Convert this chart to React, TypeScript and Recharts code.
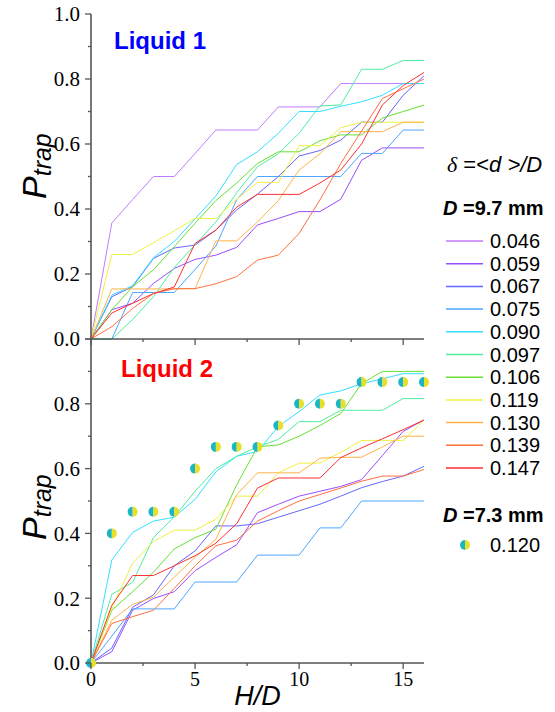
import { ComposedChart, Line, Scatter, XAxis, YAxis } from 'recharts';

// H/D positions (shared by every series)
const hd = [0, 1, 2, 3, 4, 5, 6, 7, 8, 9, 10, 11, 12, 13, 14, 15, 16];

// Liquid 1, D = 9.7 mm
const liq1_046 = [0, 0.357, 0.429, 0.5, 0.5, 0.571, 0.643, 0.643, 0.643, 0.714, 0.714, 0.714, 0.786, 0.786, 0.786, 0.786, 0.786];
const liq1_059 = [0, 0.09, 0.11, 0.171, 0.217, 0.245, 0.258, 0.282, 0.351, 0.371, 0.392, 0.392, 0.43, 0.55, 0.588, 0.588, 0.588];
const liq1_067 = [0, 0.13, 0.161, 0.248, 0.28, 0.289, 0.335, 0.397, 0.446, 0.5, 0.563, 0.58, 0.612, 0.667, 0.667, 0.75, 0.81];
const liq1_075 = [0, 0, 0.143, 0.143, 0.143, 0.214, 0.286, 0.429, 0.5, 0.5, 0.5, 0.5, 0.5, 0.571, 0.571, 0.643, 0.643];
const liq1_090 = [0, 0.135, 0.164, 0.25, 0.3, 0.37, 0.44, 0.537, 0.576, 0.633, 0.7, 0.7, 0.716, 0.73, 0.75, 0.786, 0.786];
const liq1_097 = [0, 0, 0.06, 0.13, 0.22, 0.29, 0.36, 0.45, 0.53, 0.57, 0.633, 0.717, 0.72, 0.83, 0.83, 0.857, 0.857];
const liq1_106 = [0, 0.09, 0.161, 0.213, 0.284, 0.356, 0.426, 0.48, 0.54, 0.576, 0.576, 0.61, 0.628, 0.628, 0.68, 0.7, 0.72];
const liq1_119 = [0, 0.26, 0.26, 0.296, 0.333, 0.371, 0.371, 0.43, 0.482, 0.482, 0.595, 0.595, 0.65, 0.667, 0.667, 0.667, 0.667];
const liq1_130 = [0, 0.154, 0.154, 0.154, 0.154, 0.155, 0.302, 0.302, 0.36, 0.426, 0.52, 0.57, 0.638, 0.638, 0.638, 0.667, 0.667];
const liq1_139 = [0, 0.038, 0.094, 0.14, 0.155, 0.155, 0.17, 0.192, 0.243, 0.258, 0.325, 0.428, 0.54, 0.64, 0.74, 0.77, 0.8];
const liq1_147 = [0, 0.08, 0.11, 0.14, 0.16, 0.294, 0.335, 0.406, 0.445, 0.445, 0.445, 0.48, 0.52, 0.6, 0.72, 0.78, 0.82];

// Liquid 2, D = 9.7 mm
const liq2_059 = [0, 0.035, 0.163, 0.199, 0.22, 0.285, 0.326, 0.365, 0.464, 0.49, 0.515, 0.53, 0.545, 0.566, 0.64, 0.715, 0.75];
const liq2_067 = [0, 0.046, 0.172, 0.21, 0.3, 0.346, 0.423, 0.423, 0.43, 0.45, 0.47, 0.49, 0.515, 0.541, 0.56, 0.577, 0.607];
const liq2_075 = [0, 0.083, 0.167, 0.167, 0.167, 0.25, 0.25, 0.25, 0.333, 0.333, 0.333, 0.417, 0.417, 0.5, 0.5, 0.5, 0.5];
const liq2_090 = [0, 0.318, 0.403, 0.438, 0.45, 0.505, 0.59, 0.638, 0.653, 0.73, 0.776, 0.827, 0.84, 0.862, 0.877, 0.893, 0.893];
const liq2_097 = [0, 0.212, 0.249, 0.387, 0.451, 0.53, 0.6, 0.638, 0.667, 0.69, 0.745, 0.745, 0.78, 0.78, 0.78, 0.816, 0.816];
const liq2_106 = [0, 0.163, 0.22, 0.28, 0.352, 0.387, 0.413, 0.55, 0.667, 0.673, 0.7, 0.733, 0.77, 0.862, 0.9, 0.9, 0.9];
const liq2_119 = [0, 0.17, 0.308, 0.375, 0.41, 0.41, 0.444, 0.515, 0.515, 0.587, 0.617, 0.617, 0.65, 0.687, 0.687, 0.687, 0.75];
const liq2_130 = [0, 0.132, 0.181, 0.203, 0.265, 0.326, 0.382, 0.52, 0.587, 0.587, 0.587, 0.632, 0.635, 0.635, 0.667, 0.7, 0.7];
const liq2_139 = [0, 0.122, 0.143, 0.163, 0.23, 0.3, 0.362, 0.379, 0.438, 0.47, 0.5, 0.52, 0.54, 0.561, 0.577, 0.577, 0.597];
const liq2_147 = [0, 0.178, 0.27, 0.27, 0.3, 0.331, 0.37, 0.43, 0.54, 0.571, 0.571, 0.571, 0.634, 0.664, 0.692, 0.72, 0.75];

// Liquid 2, D = 7.3 mm, delta = 0.120
const liq2_120pts = [0, 0.4, 0.467, 0.467, 0.467, 0.6, 0.667, 0.667, 0.667, 0.733, 0.8, 0.8, 0.8, 0.867, 0.867, 0.867, 0.867];

const yTicks = [0, 0.1, 0.2, 0.3, 0.4, 0.5, 0.6, 0.7, 0.8, 0.9, 1.0];
const xTicks = [0, 2.5, 5, 7.5, 10, 12.5, 15];

const series = [
  { key: 'd046', label: '0.046', color: '#c07cff', l1: liq1_046, l2: null },
  { key: 'd059', label: '0.059', color: '#9a4dff', l1: liq1_059, l2: liq2_059 },
  { key: 'd067', label: '0.067', color: '#6666ff', l1: liq1_067, l2: liq2_067 },
  { key: 'd075', label: '0.075', color: '#4da6ff', l1: liq1_075, l2: liq2_075 },
  { key: 'd090', label: '0.090', color: '#33e0ff', l1: liq1_090, l2: liq2_090 },
  { key: 'd097', label: '0.097', color: '#4deea0', l1: liq1_097, l2: liq2_097 },
  { key: 'd106', label: '0.106', color: '#66e033', l1: liq1_106, l2: liq2_106 },
  { key: 'd119', label: '0.119', color: '#f0f040', l1: liq1_119, l2: liq2_119 },
  { key: 'd130', label: '0.130', color: '#ffb347', l1: liq1_130, l2: liq2_130 },
  { key: 'd139', label: '0.139', color: '#ff7040', l1: liq1_139, l2: liq2_139 },
  { key: 'd147', label: '0.147', color: '#ff3030', l1: liq1_147, l2: liq2_147 },
];

const rows1 = hd.map((x, i) => {
  const r: any = { x };
  series.forEach((s) => (r[s.key] = s.l1[i]));
  return r;
});
const rows2 = hd.map((x, i) => {
  const r: any = { x, p120: liq2_120pts[i] };
  series.forEach((s) => {
    if (s.l2) r[s.key] = s.l2[i];
  });
  return r;
});

const AXIS = '#555';
const SERIF = '"Liberation Serif", "Times New Roman", serif';
const SANS = '"Liberation Sans", Arial, sans-serif';
const axisLine = { stroke: AXIS, strokeWidth: 1.6 };

function YTick(props: any) {
  const { x, y, payload, showTop } = props;
  const v = payload.value;
  const major = Math.round(v * 10) % 2 === 0;
  const show = major && (showTop || v < 0.95);
  return (
    <g>
      <line x1={x} x2={x - (major ? 6 : 3)} y1={y} y2={y} stroke={AXIS} strokeWidth={1.3} />
      {show && (
        <text x={x - 11} y={y} dy="0.35em" textAnchor="end" fontFamily={SERIF} fontSize={21} fill="#000">
          {v.toFixed(1)}
        </text>
      )}
    </g>
  );
}

function XTick(props: any) {
  const { x, y, payload, showLabel } = props;
  const v = payload.value;
  const major = v % 5 === 0;
  return (
    <g>
      <line x1={x} x2={x} y1={y} y2={y + (major ? 6 : 3)} stroke={AXIS} strokeWidth={1.3} />
      {showLabel && major && (
        <text x={x} y={y + 23} textAnchor="middle" fontFamily={SERIF} fontSize={20} fill="#000">
          {v}
        </text>
      )}
    </g>
  );
}

function HalfDot(props: any) {
  const { cx, cy } = props;
  if (cx == null || cy == null) return null;
  const r = 5;
  return (
    <g>
      <path d={`M${cx},${cy - r} A${r},${r} 0 0,0 ${cx},${cy + r} Z`} fill="#1bb5c4" />
      <path d={`M${cx},${cy - r} A${r},${r} 0 0,1 ${cx},${cy + r} Z`} fill="#e6e02a" />
    </g>
  );
}

function Panel({ rows, top, height, bottomAxis, withTop, lines2 }: any) {
  return (
    <ComposedChart
      width={555}
      height={height}
      data={rows}
      margin={{ top, right: 131, bottom: 0, left: 0 }}
      style={{ position: 'absolute', left: 0, top: 0 }}
    >
      <XAxis
        xAxisId="b"
        dataKey="x"
        type="number"
        domain={[0, 16]}
        ticks={xTicks}
        interval={0}
        height={bottomAxis}
        tickSize={0}
        tickMargin={0}
        tickLine={false}
        axisLine={axisLine}
        tick={(p: any) => <XTick {...p} showLabel={!withTop} />}
      />
      {withTop && (
        <XAxis xAxisId="t" orientation="top" type="number" domain={[0, 16]} height={0} tick={false} tickLine={false} axisLine={axisLine} />
      )}
      <YAxis
        yAxisId="l"
        type="number"
        domain={[0, 1]}
        ticks={yTicks}
        interval={0}
        width={91}
        tickSize={0}
        tickMargin={0}
        tickLine={false}
        axisLine={axisLine}
        tick={(p: any) => <YTick {...p} showTop={withTop} />}
      />
      <YAxis yAxisId="r" orientation="right" type="number" domain={[0, 1]} width={0} tick={false} tickLine={false} axisLine={axisLine} />
      {series
        .filter((s) => (lines2 ? s.l2 : true))
        .map((s) => (
          <Line
            key={s.key}
            xAxisId="b"
            yAxisId="l"
            type="linear"
            dataKey={s.key}
            stroke={s.color}
            strokeWidth={1}
            dot={false}
            activeDot={false}
            isAnimationActive={false}
          />
        ))}
      {lines2 && (
        <Scatter xAxisId="b" yAxisId="l" dataKey="p120" shape={HalfDot} isAnimationActive={false} />
      )}
    </ComposedChart>
  );
}

export default function App() {
  const legendTop = 241;
  const legendStep = 22.7;
  return (
    <div style={{ position: 'absolute', left: 0, top: 0, width: 555, height: 712, background: '#fff', overflow: 'hidden' }}>
      <Panel rows={rows1} top={14} height={365} bottomAxis={26} withTop lines2={false} />
      <Panel rows={rows2} top={339} height={712} bottomAxis={49} withTop={false} lines2 />
      <svg width={555} height={712} style={{ position: 'absolute', left: 0, top: 0, pointerEvents: 'none' }}>
        <text x={114} y={49} fontFamily={SANS} fontWeight="bold" fontSize={24} fill="#0000ff">Liquid 1</text>
        <text x={121} y={377} fontFamily={SANS} fontWeight="bold" fontSize={24} fill="#ff0000">Liquid 2</text>

        <text transform="rotate(-90 46 199)" x={46} y={199} fontFamily={SANS} fontStyle="italic" fontSize={34} fill="#000">
          P<tspan fontSize={25} dy={5}>trap</tspan>
        </text>
        <text transform="rotate(-90 46 540)" x={46} y={540} fontFamily={SANS} fontStyle="italic" fontSize={34} fill="#000">
          P<tspan fontSize={25} dy={5}>trap</tspan>
        </text>

        <text x={257.5} y={705} textAnchor="middle" fontFamily={SANS} fontStyle="italic" fontSize={27} fill="#000">H/D</text>

        <text x={447} y={172} fontFamily={SANS} fontSize={22} fill="#000">
          <tspan fontFamily={SERIF} fontStyle="italic">δ</tspan>
          <tspan> =&lt;</tspan>
          <tspan fontStyle="italic">d</tspan>
          <tspan fontStyle="italic"> &gt;/D</tspan>
        </text>
        <text x={443} y={215} fontFamily={SANS} fontWeight="bold" fontSize={20} fill="#000">
          <tspan fontStyle="italic">D</tspan> =9.7 mm
        </text>
        {series.map((s, i) => {
          const cy = legendTop + i * legendStep;
          return (
            <g key={s.key}>
              <line x1={446} x2={483} y1={cy} y2={cy} stroke={s.color} strokeWidth={1.5} />
              <text x={490} y={cy + 7} fontFamily={SANS} fontSize={20} fill="#000">{s.label}</text>
            </g>
          );
        })}
        <text x={443} y={522} fontFamily={SANS} fontWeight="bold" fontSize={20} fill="#000">
          <tspan fontStyle="italic">D</tspan> =7.3 mm
        </text>
        <HalfDot cx={465} cy={545} />
        <text x={490} y={552} fontFamily={SANS} fontSize={20} fill="#000">0.120</text>
      </svg>
    </div>
  );
}
